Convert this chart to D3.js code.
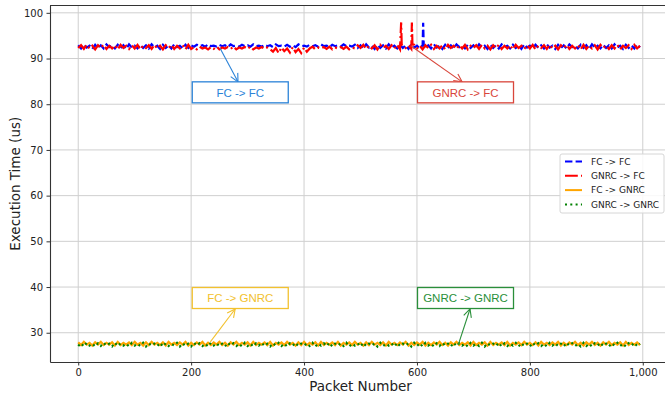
<!DOCTYPE html>
<html>
<head>
<meta charset="utf-8">
<script src="https://cdn.jsdelivr.net/npm/d3@7"></script>
<style>
  body { margin: 0; background: #fff; }
  svg { display: block; font-family: "DejaVu Sans", sans-serif; }
</style>
</head>
<body>
<svg id="chart" width="665" height="398"></svg>
<script>
// packets are sampled every 5th packet
const packetStep = 5;

const fcToFc = [
  92.9,92.2,93.1,92.4,92.8,92.1,93.0,92.3,92.9,92.2,93.1,92.5,92.8,92.2,93.0,92.3,92.9,92.1,93.1,92.4,
  92.8,92.2,93.0,92.3,92.9,92.2,93.1,92.4,92.8,92.1,93.0,92.3,92.9,92.2,93.1,92.5,92.8,92.2,93.0,92.3,
  92.9,92.6,93.0,92.7,92.9,92.6,93.1,92.7,92.8,92.6,93.0,92.7,92.9,92.5,93.1,92.7,92.8,92.6,93.0,92.7,
  92.9,92.6,93.1,92.7,92.8,92.6,93.0,92.7,92.9,92.5,93.1,92.7,92.8,92.6,93.0,92.6,92.9,92.5,93.1,92.7,
  92.8,92.6,93.0,92.7,92.9,92.6,93.1,92.7,92.8,92.5,93.0,92.7,92.9,92.6,93.1,92.7,92.8,92.6,93.0,92.3,
  92.9,92.2,93.1,92.4,92.8,92.1,93.0,92.3,92.9,92.2,93.1,92.4,92.8,92.2,93.0,92.3,92.9,92.1,93.1,92.4,
  92.8,92.2,92.9,92.3,92.9,92.2,93.1,92.4,92.8,92.1,93.0,92.3,92.9,92.2,93.1,92.5,92.8,92.2,93.0,92.3,
  92.9,92.2,93.1,92.4,92.8,92.1,93.0,92.3,92.9,92.2,93.1,92.5,92.8,92.2,93.0,92.3,92.9,92.1,93.1,92.4,
  92.8,92.2,93.0,92.3,92.9,92.2,93.1,92.4,92.8,92.1,93.0,92.3,92.9,92.2,93.1,92.5,92.8,92.2,93.0,92.3,
  92.9,92.1,93.1,92.4,92.8,92.2,93.0,92.3,92.9,92.2,93.1,92.4,92.8,92.1,93.0,92.3,92.9,92.2,93.1,92.4
];
const fcToFcPeaks = [[611, 97.8], [612, 93.0]];

const gnrcToFc = [
  92.3,92.9,92.1,93.0,92.2,92.8,92.0,92.9,92.3,93.0,92.1,92.8,92.2,92.9,92.0,93.0,92.3,92.8,92.1,92.9,
  92.2,93.0,92.0,92.8,92.3,92.9,92.1,93.0,92.2,92.8,92.0,92.9,92.3,93.0,92.1,92.8,92.2,92.9,92.0,93.0,
  92.1,92.5,92.0,92.6,92.2,92.4,92.0,92.5,92.1,92.6,92.0,92.4,92.2,92.5,92.1,92.6,92.0,92.4,92.2,92.5,
  92.1,92.6,92.0,92.4,92.2,92.5,92.1,92.4,92.0,91.5,92.3,91.2,92.4,91.6,92.2,91.3,92.5,91.4,92.1,91.2,
  92.4,91.5,92.2,92.6,92.0,92.4,92.2,92.5,92.1,92.6,92.0,92.4,92.2,92.5,92.1,92.6,92.0,92.4,92.2,92.9,
  92.3,93.0,92.1,92.8,92.2,92.9,92.0,93.0,92.3,92.8,92.1,92.9,92.2,93.0,92.0,92.8,92.3,92.9,92.1,93.0,
  92.2,92.8,92.0,92.9,92.3,93.0,92.1,92.8,92.2,92.9,92.0,93.0,92.3,92.8,92.1,92.9,92.2,93.0,92.0,92.8,
  92.3,92.9,92.1,93.0,92.2,92.8,92.0,92.9,92.3,93.0,92.1,92.8,92.2,92.9,92.0,93.0,92.3,92.8,92.1,92.9,
  92.2,93.0,92.0,92.8,92.3,92.9,92.1,93.0,92.2,92.8,92.0,92.9,92.3,93.0,92.1,92.8,92.2,92.9,92.0,93.0,
  92.1,92.8,92.2,92.9,92.0,93.0,92.3,92.8,92.1,92.9,92.2,93.0,92.0,92.8,92.3,92.9,92.1,93.0,92.2,92.8
];
const gnrcToFcPeaks = [[572, 97.9], [573, 93.0], [591, 97.9], [592, 93.1]];

const fcToGnrc = [
  27.9,27.3,28.0,27.4,27.8,27.2,27.9,27.4,28.0,27.3,27.8,27.4,27.9,27.2,28.0,27.3,27.8,27.4,27.9,27.3,
  28.0,27.4,27.8,27.2,27.9,27.3,28.0,27.4,27.8,27.3,27.9,27.2,28.0,27.4,27.8,27.3,27.9,27.4,28.0,27.2,
  27.8,27.3,27.9,27.4,28.0,27.2,27.8,27.3,27.9,27.4,28.0,27.3,27.8,27.2,27.9,27.4,28.0,27.3,27.8,27.4,
  27.9,27.2,28.0,27.3,27.8,27.4,27.9,27.3,28.0,27.2,27.8,27.4,27.9,27.3,28.0,27.4,27.8,27.2,27.9,27.3,
  28.0,27.3,27.8,27.4,27.9,27.2,28.0,27.3,27.8,27.4,27.9,27.3,28.0,27.2,27.8,27.4,27.9,27.3,28.0,27.4,
  27.8,27.2,27.9,27.3,28.0,27.4,27.8,27.3,27.9,27.2,28.0,27.4,27.8,27.3,27.9,27.4,28.0,27.2,27.8,27.3,
  27.9,27.4,28.0,27.2,27.8,27.3,27.9,27.4,28.0,27.3,27.8,27.2,27.9,27.4,28.0,27.3,27.8,27.4,27.9,27.2,
  28.0,27.3,27.8,27.4,27.9,27.2,28.0,27.3,27.8,27.4,27.9,27.3,28.0,27.2,27.8,27.4,27.9,27.3,28.0,27.4,
  27.8,27.3,27.9,27.2,28.0,27.4,27.8,27.3,27.9,27.4,28.0,27.2,27.8,27.3,27.9,27.4,28.0,27.3,27.8,27.2,
  27.9,27.4,28.0,27.3,27.8,27.2,27.9,27.4,28.0,27.3,27.8,27.4,27.9,27.2,28.0,27.3,27.8,27.4,27.9,27.3
];

const gnrcToGnrc = [
  27.1,27.7,27.0,27.8,27.2,27.6,27.0,27.7,27.1,27.8,27.2,27.6,27.0,27.8,27.1,27.7,27.2,27.6,27.0,27.8,
  27.2,27.6,27.1,27.8,27.0,27.7,27.2,27.6,27.1,27.8,27.0,27.7,27.1,27.6,27.2,27.8,27.0,27.7,27.1,27.6,
  27.0,27.8,27.2,27.7,27.1,27.6,27.0,27.8,27.2,27.7,27.1,27.6,27.0,27.8,27.2,27.7,27.1,27.6,27.0,27.8,
  27.1,27.6,27.0,27.7,27.2,27.8,27.1,27.6,27.0,27.7,27.2,27.8,27.1,27.6,27.0,27.7,27.2,27.8,27.1,27.6,
  27.2,27.7,27.1,27.8,27.0,27.6,27.2,27.7,27.1,27.8,27.0,27.6,27.2,27.7,27.1,27.8,27.0,27.6,27.2,27.7,
  27.0,27.8,27.1,27.6,27.2,27.7,27.0,27.8,27.1,27.6,27.2,27.7,27.0,27.8,27.1,27.6,27.2,27.7,27.0,27.8,
  27.1,27.7,27.0,27.8,27.2,27.6,27.0,27.7,27.1,27.8,27.2,27.6,27.0,27.8,27.1,27.7,27.2,27.6,27.0,27.8,
  27.2,27.6,27.1,27.8,27.0,27.7,27.2,27.6,27.1,27.8,27.0,27.7,27.1,27.6,27.2,27.8,27.0,27.7,27.1,27.6,
  27.0,27.8,27.2,27.7,27.1,27.6,27.0,27.8,27.2,27.7,27.1,27.6,27.0,27.8,27.2,27.7,27.1,27.6,27.0,27.8,
  27.1,27.6,27.0,27.7,27.2,27.8,27.1,27.6,27.0,27.7,27.2,27.8,27.1,27.6,27.0,27.7,27.2,27.8,27.1,27.6
];

const seriesNames = ['FC -> FC', 'GNRC -> FC', 'FC -> GNRC', 'GNRC -> GNRC'];
const xTicks = [0, 200, 400, 600, 800, 1000];
const yTicks = [30, 40, 50, 60, 70, 80, 90, 100];

// annotation boxes: label, box centre (packet, us), arrow from -> to
const notes = [
  { text: 'FC -> FC',     at: [287, 82.6], from: [251, 92.3], to: [283, 84.9], color: '#2b83d8' },
  { text: 'GNRC -> FC',   at: [686, 82.6], from: [589, 92.8], to: [680, 84.9], color: '#d9463b' },
  { text: 'FC -> GNRC',   at: [287, 37.6], from: [234, 28.0], to: [278, 35.2], color: '#f2c12e' },
  { text: 'GNRC -> GNRC', at: [686, 37.6], from: [673, 27.3], to: [694, 35.2], color: '#2a8f3a' }
];

const styles = [
  { color: '#0000ff', dash: '7.4,3.2' },
  { color: '#ff0000', dash: '12.8,3.2,2,3.2' },
  { color: '#ffa500', dash: null },
  { color: '#008000', dash: '2,3.3' }
];

const toPoints = (vals, peaks) => {
  const pts = vals.map((v, i) => [i * packetStep, v]);
  return pts.concat(peaks || []).sort((a, b) => a[0] - b[0]);
};
const series = [
  toPoints(fcToFc, fcToFcPeaks),
  toPoints(gnrcToFc, gnrcToFcPeaks),
  toPoints(fcToGnrc),
  toPoints(gnrcToGnrc)
];

const svg = d3.select('#chart');
// the right edge of the axes runs past the picture
const margin = { top: 5.5, right: -6, bottom: 36, left: 50 };
const width = 665, height = 398;

const x = d3.scaleLinear().domain([-50, 1050]).range([margin.left, width - margin.right]);
const y = d3.scaleLinear().domain([23.6, 101.6]).range([height - margin.bottom, margin.top]);

svg.append('defs').append('clipPath').attr('id', 'plot')
  .append('rect')
  .attr('x', margin.left).attr('y', margin.top)
  .attr('width', width - margin.right - margin.left)
  .attr('height', height - margin.bottom - margin.top);

// grid
svg.append('g').selectAll('line').data(xTicks).join('line')
  .attr('x1', d => x(d)).attr('x2', d => x(d))
  .attr('y1', margin.top).attr('y2', height - margin.bottom)
  .attr('stroke', '#cfcfcf').attr('stroke-width', 1);
svg.append('g').selectAll('line').data(yTicks).join('line')
  .attr('x1', margin.left).attr('x2', width - margin.right)
  .attr('y1', d => y(d)).attr('y2', d => y(d))
  .attr('stroke', '#cfcfcf').attr('stroke-width', 1);

// lines
const line = d3.line().x(d => x(d[0])).y(d => y(d[1]));
const lines = svg.append('g').attr('clip-path', 'url(#plot)');
series.forEach((s, i) => {
  lines.append('path')
    .datum(s)
    .attr('fill', 'none')
    .attr('stroke', styles[i].color)
    .attr('stroke-width', 2.2)
    .attr('stroke-dasharray', styles[i].dash)
    .attr('d', line);
});

// axes
const xAxis = svg.append('g')
  .attr('transform', 'translate(0,' + (height - margin.bottom) + ')')
  .call(d3.axisBottom(x).tickValues(xTicks).tickSizeInner(3.5).tickSizeOuter(0).tickPadding(3.5));
const yAxis = svg.append('g')
  .attr('transform', 'translate(' + margin.left + ',0)')
  .call(d3.axisLeft(y).tickValues(yTicks).tickSizeInner(3.5).tickSizeOuter(0).tickPadding(3.5));
[xAxis, yAxis].forEach(a => {
  a.selectAll('text').attr('font-size', 10).attr('fill', '#222').attr('font-family', 'DejaVu Sans');
  a.selectAll('.tick line').attr('stroke', '#333');
  a.select('.domain').attr('stroke', '#333').attr('stroke-width', 1.1);
});
// top spine
svg.append('line')
  .attr('x1', margin.left).attr('x2', width)
  .attr('y1', margin.top).attr('y2', margin.top)
  .attr('stroke', '#333').attr('stroke-width', 1.1);

svg.append('text')
  .attr('x', (margin.left + width - margin.right) / 2).attr('y', 391)
  .attr('text-anchor', 'middle').attr('font-size', 13.5).attr('fill', '#222')
  .text('Packet Number');
svg.append('text')
  .attr('transform', 'translate(20,' + ((margin.top + height - margin.bottom) / 2) + ') rotate(-90)')
  .attr('text-anchor', 'middle').attr('font-size', 13.5).attr('fill', '#222')
  .text('Execution Time (us)');

// annotations
const defs = svg.select('defs');
notes.forEach((n, i) => {
  defs.append('marker')
    .attr('id', 'head' + i)
    .attr('viewBox', '-10 -6 12 12')
    .attr('refX', 0).attr('refY', 0)
    .attr('markerWidth', 12).attr('markerHeight', 12)
    .attr('markerUnits', 'userSpaceOnUse')
    .attr('orient', 'auto')
    .append('path')
    .attr('d', 'M-8,-4 L0,0 L-8,4')
    .attr('fill', 'none').attr('stroke', n.color).attr('stroke-width', 1.1);

  svg.append('line')
    .attr('x1', x(n.from[0])).attr('y1', y(n.from[1]))
    .attr('x2', x(n.to[0])).attr('y2', y(n.to[1]))
    .attr('stroke', n.color).attr('stroke-width', 1.1)
    .attr('marker-end', 'url(#head' + i + ')');

  const cx = x(n.at[0]), cy = y(n.at[1]);
  svg.append('rect')
    .attr('x', cx - 48).attr('y', cy - 10.5)
    .attr('width', 96).attr('height', 21)
    .attr('fill', '#fff').attr('stroke', n.color).attr('stroke-width', 1.3);
  svg.append('text')
    .attr('x', cx).attr('y', cy + 4.2)
    .attr('text-anchor', 'middle').attr('font-size', 11.5).attr('fill', n.color)
    .attr('font-family', '"Liberation Sans", Arial, sans-serif')
    .text(n.text);
});

// legend
const legend = svg.append('g').attr('transform', 'translate(560,154)');
legend.append('rect')
  .attr('width', 104).attr('height', 59).attr('rx', 2)
  .attr('fill', '#fff').attr('fill-opacity', 0.85)
  .attr('stroke', '#d6d6d6');
seriesNames.forEach((name, i) => {
  const ry = 7.5 + i * 14.3;
  legend.append('line')
    .attr('x1', 5).attr('x2', 22).attr('y1', ry).attr('y2', ry)
    .attr('stroke', styles[i].color).attr('stroke-width', 2)
    .attr('stroke-dasharray', styles[i].dash);
  legend.append('text')
    .attr('x', 31).attr('y', ry + 3.3)
    .attr('font-size', 9).attr('fill', '#222')
    .text(name);
});
</script>
</body>
</html>
